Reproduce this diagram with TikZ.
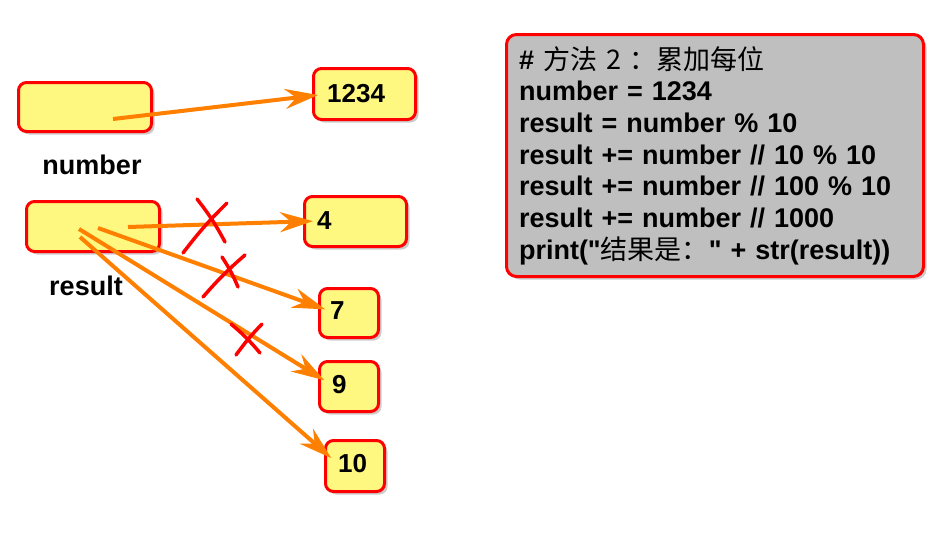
\documentclass[tikz,border=0pt]{standalone}
\usepackage{fontspec}
\setmainfont{Liberation Sans}
\newfontfamily\cjk{Noto Sans CJK SC}
\usetikzlibrary{arrows.meta,shadows}

\begin{document}
\begin{tikzpicture}[x=1pt,y=-1pt,
	var/.style={draw=red, line width=3pt, fill=yellow!50, rounded corners=8pt, drop shadow={shadow xshift=3pt, shadow yshift=-3pt, fill=black!40, opacity=0.5}},
	val/.style={anchor=west, inner sep=0pt, font=\fontsize{26}{30}\selectfont\bfseries},
	varname/.style={inner sep=0pt, font=\fontsize{27}{30}\selectfont\bfseries},
	ptr/.style={draw=orange, line width=4pt, -{Stealth[length=33pt,width=20pt,inset=11pt]}, shorten >=6pt},
	xmark/.style={draw=red, line width=3.5pt, line cap=round}]
		\useasboundingbox (0,0) rectangle (950,538);

		% variables
		\node[var, minimum width=133pt, minimum height=49pt] (numVar) at (85,107) {};
		\node[var, minimum width=133pt, minimum height=50pt] (resVar) at (93,226.5) {};
		\node[varname] (numName) at (92,165) {number};
		\node[varname] (resName) at (86,286) {result};

		% values
		\node[var, minimum width=102pt, minimum height=51pt] (b1234) at (364.5,94) {};
		\node[var, minimum width=102pt, minimum height=50pt] (b4) at (355.5,221.5) {};
		\node[var, minimum width=59pt, minimum height=49pt] (b7) at (349,313) {};
		\node[var, minimum width=59pt, minimum height=50pt] (b9) at (349,386.5) {};
		\node[var, minimum width=59pt, minimum height=51pt] (b10) at (355,466) {};
		\node[val] (v1234) at (327,94) {1234};
		\node[val] (v4) at (317,221) {4};
		\node[val] (v7) at (330,311) {7};
		\node[val] (v9) at (332,385) {9};
		\node[val] (v10) at (338,464) {10};

		% references
		\coordinate (numPtr) at (113,119);
		\coordinate (r4) at (128,227);
		\coordinate (r7) at (98,228);
		\coordinate (r9) at (79,229);
		\coordinate (r10) at (80,237);
		\draw[ptr, shorten >=9pt] (numPtr) -- (v1234.west);
		\draw[ptr, shorten >=4pt] (r4) -- (v4.west);
		\draw[ptr, shorten >=5pt] (r7) -- (v7.west);
		\draw[ptr, shorten >=9pt] (r9) -- (v9.west);
		\draw[ptr, shorten >=9pt] (r10) -- (v10.west);

		% crossed out
		\draw[xmark] (183,253) to[bend left=4] (227,203);
		\draw[xmark] (197,199) to[bend left=5] (225,242);
		\draw[xmark] (203,297) to[bend left=4] (245,255);
		\draw[xmark] (222,257) to[bend left=5] (238,287);
		\draw[xmark] (236,355) to[bend left=4] (262,324);
		\draw[xmark] (231,324) to[bend left=5] (260,353);

		% code
		\node[draw=red, line width=3pt, fill=black!25, rounded corners=10pt,
			drop shadow={shadow xshift=3pt, shadow yshift=-3pt, fill=black!40, opacity=0.5},
			minimum width=417pt, minimum height=242pt, text width=392pt, inner xsep=12.5pt,
			align=left, font=\fontsize{27}{31.7}\selectfont\bfseries] (prog) at (715,155.5)
			{\# {\cjk\mdseries 方法 2 ：累加每位}\\
			number = 1234\\
			result = number \% 10\\
			result += number // 10 \% 10\\
			result += number // 100 \% 10\\
			result += number // 1000\\
			print(\textquotedbl{\cjk\mdseries 结果是：}\textquotedbl\ + str(result))};
	\end{tikzpicture}
\end{document}
